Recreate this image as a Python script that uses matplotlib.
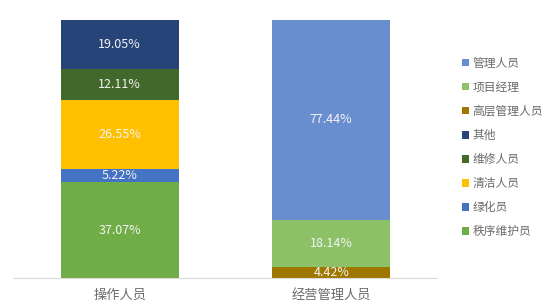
import numpy as np
from matplotlib import pyplot as plt

plt.rcParams['font.family'] = ['Noto Sans CJK SC', 'DejaVu Sans']

categories = ['操作人员', '经营管理人员']
series_names = ['秩序维护员', '绿化员', '清洁人员', '维修人员', '其他',
                '高层管理人员', '项目经理', '管理人员']
# percentage per category (0 where the series is absent)
series_values = [
    [37.07, 0.0],
    [5.22, 0.0],
    [26.55, 0.0],
    [12.11, 0.0],
    [19.05, 0.0],
    [0.0, 4.42],
    [0.0, 18.14],
    [0.0, 77.44],
]
colors = ['#70AD47', '#4472C4', '#FFC000', '#43682B', '#264478',
          '#9E7700', '#8CC168', '#698ED0']

fig = plt.figure(figsize=(5.54, 3.05), dpi=100)
ax = fig.add_axes([14 / 554, 27 / 305, 423 / 554, 258 / 305])

x = np.arange(len(categories))
bottom = np.zeros(len(categories))
handles = []
for name, vals, c in zip(series_names, series_values, colors):
    vals = np.array(vals)
    bars = ax.bar(x, vals, bottom=bottom, width=0.56, color=c, label=name)
    handles.append(bars)
    for xi, v, b in zip(x, vals, bottom):
        if v > 0:
            ax.text(xi, b + v / 2, f'{v:.2f}%', ha='center', va='center',
                    fontsize=9, color='#F4F4F4')
    bottom += vals

ax.set_xlim(-0.5, 1.5)
ax.set_ylim(0, 100)
ax.set_yticks([])
ax.set_xticks(x)
ax.set_xticklabels(categories, fontsize=9.5, color='#6B6B6B')
ax.tick_params(axis='x', length=0, pad=8)
for s in ['top', 'right', 'left']:
    ax.spines[s].set_visible(False)
ax.spines['bottom'].set_color('#D9D9D9')

leg = fig.legend(handles[::-1], series_names[::-1], loc='upper left',
                 bbox_to_anchor=(451 / 554, 1 - 46 / 305), frameon=False,
                 fontsize=8.5, handlelength=0.6, handleheight=0.6,
                 handletextpad=0.3, labelspacing=0.94)
for t in leg.get_texts():
    t.set_color('#6B6B6B')

plt.savefig('out.png', dpi=100)
